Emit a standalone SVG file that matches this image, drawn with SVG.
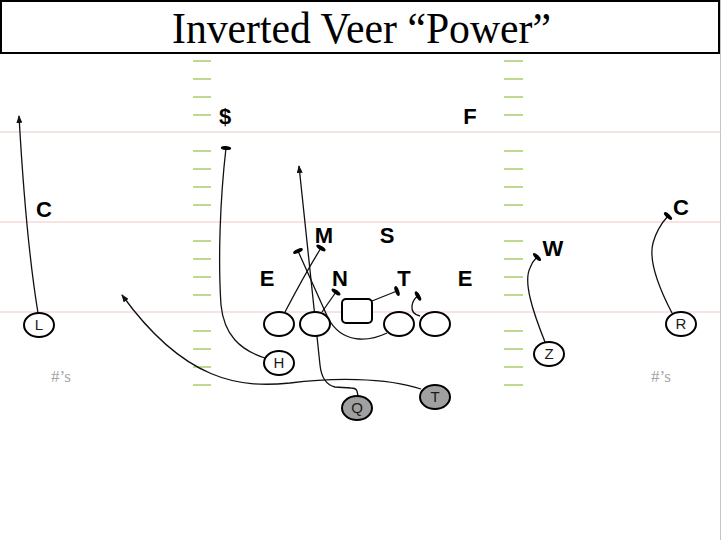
<svg xmlns="http://www.w3.org/2000/svg" width="721" height="540" viewBox="0 0 721 540">
<defs>
<style>
.hash{stroke:#a8cc6c;stroke-width:1.5}
.yard{stroke:#f2c6c6;stroke-width:1.2}
.def{font-family:"Liberation Sans",Arial,sans-serif;font-weight:bold;font-size:22px;fill:#000;text-anchor:middle}
.off{fill:#fff;stroke:#000;stroke-width:2}
.offg{fill:#a0a0a0;stroke:#000;stroke-width:2}
.olab{font-family:"Liberation Sans",Arial,sans-serif;font-size:15px;fill:#1a1a1a;text-anchor:middle}
.num{font-family:"Liberation Serif","Times New Roman",serif;font-size:17px;fill:#a6a6a6;text-anchor:middle}
.route{fill:none;stroke:#111;stroke-width:1.3}
.arrow{marker-end:url(#arr)}
.block{marker-end:url(#blk)}
</style>
<marker id="arr" viewBox="0 0 8 6" refX="7" refY="3" markerWidth="8" markerHeight="6" markerUnits="userSpaceOnUse" orient="auto">
<path d="M0,0 L8,3 L0,6 z" fill="#111"/>
</marker>
<marker id="blk" viewBox="-3 -6 6 12" refX="0" refY="0" markerWidth="6" markerHeight="12" markerUnits="userSpaceOnUse" orient="auto">
<ellipse cx="0" cy="0" rx="2" ry="5.2" fill="#000"/>
</marker>
</defs>
<rect width="721" height="540" fill="#fff"/>
<line x1="720.5" y1="0" x2="720.5" y2="540" stroke="#c4c4c4" stroke-width="1"/>

<g id="title">
<rect x="1" y="1" width="718" height="52" fill="#fff" stroke="#000" stroke-width="2"/>
<text x="172" y="43" font-family="'Liberation Serif','Times New Roman',serif" font-size="45" textLength="379" lengthAdjust="spacingAndGlyphs" fill="#000">Inverted Veer “Power”</text>
</g>

<g id="field">
<line class="yard" x1="0" y1="132" x2="721" y2="132"/>
<line class="yard" x1="0" y1="222" x2="721" y2="222"/>
<line class="yard" x1="0" y1="312" x2="721" y2="312"/>
<g id="hash-left">
<line class="hash" x1="193" y1="61" x2="211" y2="61"/>
<line class="hash" x1="193" y1="79" x2="211" y2="79"/>
<line class="hash" x1="193" y1="97" x2="211" y2="97"/>
<line class="hash" x1="193" y1="115" x2="211" y2="115"/>
<line class="hash" x1="193" y1="151" x2="211" y2="151"/>
<line class="hash" x1="193" y1="169" x2="211" y2="169"/>
<line class="hash" x1="193" y1="187" x2="211" y2="187"/>
<line class="hash" x1="193" y1="205" x2="211" y2="205"/>
<line class="hash" x1="193" y1="241" x2="211" y2="241"/>
<line class="hash" x1="193" y1="259" x2="211" y2="259"/>
<line class="hash" x1="193" y1="277" x2="211" y2="277"/>
<line class="hash" x1="193" y1="295" x2="211" y2="295"/>
<line class="hash" x1="193" y1="331" x2="211" y2="331"/>
<line class="hash" x1="193" y1="349" x2="211" y2="349"/>
<line class="hash" x1="193" y1="367" x2="211" y2="367"/>
<line class="hash" x1="193" y1="385" x2="211" y2="385"/>
</g>
<g id="hash-right">
<line class="hash" x1="504" y1="61" x2="523" y2="61"/>
<line class="hash" x1="504" y1="79" x2="523" y2="79"/>
<line class="hash" x1="504" y1="97" x2="523" y2="97"/>
<line class="hash" x1="504" y1="115" x2="523" y2="115"/>
<line class="hash" x1="504" y1="151" x2="523" y2="151"/>
<line class="hash" x1="504" y1="169" x2="523" y2="169"/>
<line class="hash" x1="504" y1="187" x2="523" y2="187"/>
<line class="hash" x1="504" y1="205" x2="523" y2="205"/>
<line class="hash" x1="504" y1="241" x2="523" y2="241"/>
<line class="hash" x1="504" y1="259" x2="523" y2="259"/>
<line class="hash" x1="504" y1="277" x2="523" y2="277"/>
<line class="hash" x1="504" y1="295" x2="523" y2="295"/>
<line class="hash" x1="504" y1="331" x2="523" y2="331"/>
<line class="hash" x1="504" y1="349" x2="523" y2="349"/>
<line class="hash" x1="504" y1="367" x2="523" y2="367"/>
<line class="hash" x1="504" y1="385" x2="523" y2="385"/>
</g>
<text class="num" x="61" y="382">#’s</text>
<text class="num" x="661" y="382">#’s</text>
</g>

<g id="connectors">
<path class="route arrow" d="M38,313 Q26,240 19,116"/>
<path class="route block" d="M265,358 C240,350 224,335 221,305 C218,260 220,200 226,148"/>
<path class="route arrow" d="M358,396 L357,391 Q356,388 351,388 L335,387 Q322,384 320,365 L299,166"/>
<path class="route arrow" d="M421,389 C385,377 330,378 290,383 C240,388 185,382 122,295"/>
<path class="route block" d="M285,312 Q306,272 321,248"/>
<path class="route block" d="M387,333 C368,342 342,344 328,318 L298,251"/>
<path class="route block" d="M322,312 L336,292"/>
<path class="route block" d="M372,301 L397,291"/>
<path class="route block" d="M420,316 Q411,314 412,306 Q413,299 418,296"/>
<path class="route block" d="M545,342 C533,312 523,282 530,268 Q532,262 537,257"/>
<path class="route block" d="M672,313 C660,290 648,262 653,243 Q657,228 668,216"/>
</g>

<g id="defense">
<g id="d-money"><text class="def" x="225" y="124">$</text></g>
<g id="d-free"><text class="def" x="470" y="124">F</text></g>
<g id="d-corner-left"><text class="def" x="44" y="217">C</text></g>
<g id="d-corner-right"><text class="def" x="681" y="215">C</text></g>
<g id="d-mike"><text class="def" x="324" y="243">M</text></g>
<g id="d-sam"><text class="def" x="387" y="243">S</text></g>
<g id="d-will"><text class="def" x="553" y="256">W</text></g>
<g id="d-end-left"><text class="def" x="267" y="286">E</text></g>
<g id="d-nose"><text class="def" x="340" y="286">N</text></g>
<g id="d-tackle"><text class="def" x="404" y="286">T</text></g>
<g id="d-end-right"><text class="def" x="465" y="286">E</text></g>
</g>

<g id="offense">
<g id="o-lt"><ellipse class="off" cx="279" cy="324" rx="15" ry="12"/></g>
<g id="o-lg"><ellipse class="off" cx="315" cy="324" rx="15" ry="12"/></g>
<g id="o-c"><rect class="off" x="342" y="299" width="30" height="24" rx="4"/></g>
<g id="o-rg"><ellipse class="off" cx="399" cy="324" rx="15" ry="12"/></g>
<g id="o-rt"><ellipse class="off" cx="435" cy="324" rx="15" ry="12"/></g>
<g id="o-l"><ellipse class="off" cx="39" cy="325" rx="15" ry="12"/><text class="olab" x="39" y="330">L</text></g>
<g id="o-h"><ellipse class="off" cx="279" cy="363" rx="15" ry="12"/><text class="olab" x="279" y="368">H</text></g>
<g id="o-q"><ellipse class="offg" cx="357" cy="408" rx="15" ry="12"/><text class="olab" x="357" y="413">Q</text></g>
<g id="o-t"><ellipse class="offg" cx="435" cy="397" rx="15" ry="12"/><text class="olab" x="435" y="402">T</text></g>
<g id="o-z"><ellipse class="off" cx="549" cy="354" rx="15" ry="12"/><text class="olab" x="549" y="359">Z</text></g>
<g id="o-r"><ellipse class="off" cx="681" cy="324" rx="15" ry="12"/><text class="olab" x="681" y="329">R</text></g>
</g>
</svg>
